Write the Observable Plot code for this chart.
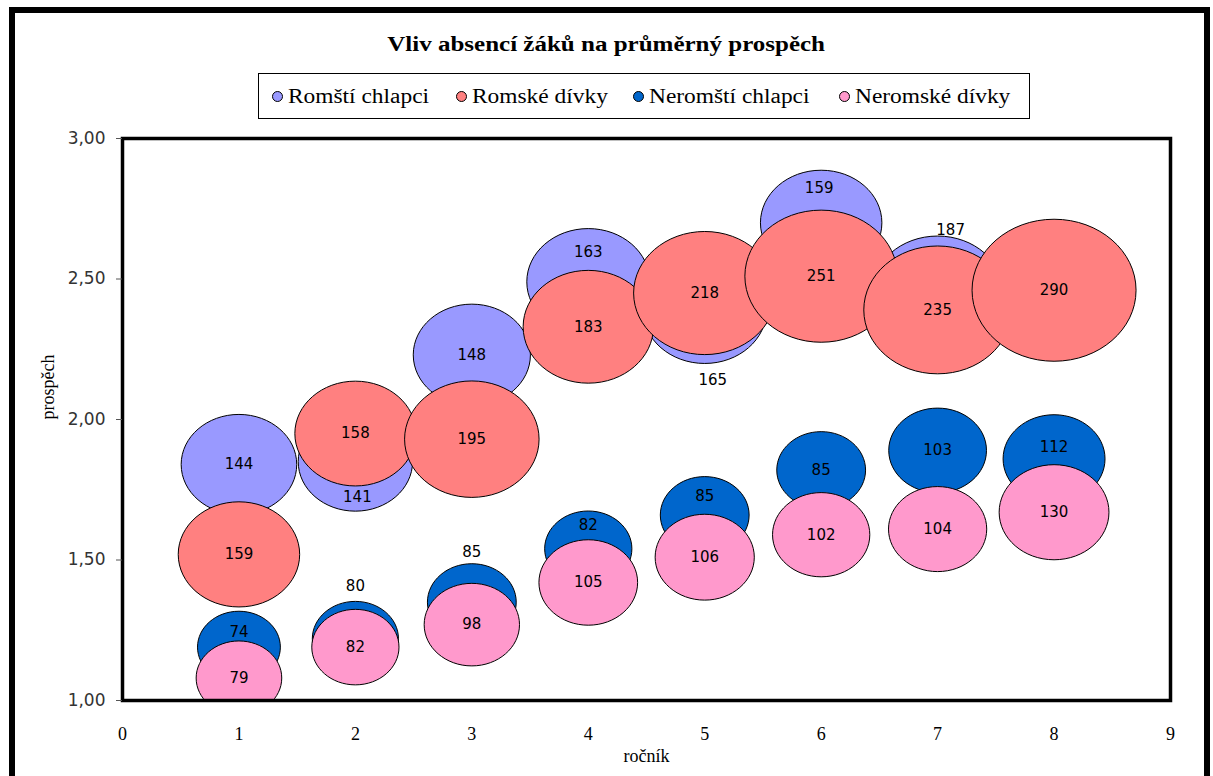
<!DOCTYPE html>
<html>
<head>
<meta charset="utf-8">
<script src="https://cdn.jsdelivr.net/npm/d3@7"></script>
<script src="https://cdn.jsdelivr.net/npm/@observablehq/plot@0.6"></script>
<style>
  body { margin: 0; background: #fff; }
  #wrap { position: relative; width: 1213px; height: 776px; overflow: hidden; background: #fff; }
  #outer { position: absolute; left: 9px; top: 7px; width: 1201px; height: 820px; border: 6px solid #000; box-sizing: border-box; }
  #chart { position: absolute; left: 0; top: 0; }
  #title { position: absolute; left: 0; top: 33px; width: 1213px; text-align: center;
           font: bold 20px "Liberation Serif", serif; color: #000; }
  #title span { display: inline-block; transform: scaleX(1.25); }
  #legend { position: absolute; left: 258px; top: 73px; width: 772px; height: 46px; box-sizing: border-box;
            border: 1px solid #000; background: #fff;
            font: 20px "Liberation Serif", serif; color: #000; }
  .item { position: absolute; top: 0; height: 44px; display: flex; align-items: center; white-space: nowrap; }
  .sw { width: 11px; height: 11px; border-radius: 50%; border: 1px solid #000; margin-right: 5px; box-sizing: border-box; }
  .lt { display: inline-block; transform: scaleX(1.17); transform-origin: left center; }
</style>
</head>
<body>
<div id="wrap">
  <div id="chart"></div>
  <div id="outer"></div>
  <div id="title"><span>Vliv absencí žáků na průměrný prospěch</span></div>
  <div id="legend"></div>
</div>
<script>
// ---- data ----
const seriesNames = ["Romští chlapci", "Romské dívky", "Neromští chlapci", "Neromské dívky"];
const seriesColors = ["#9999FF", "#FF8080", "#0066CC", "#FF99CC"];

const romBoysGrade = [1, 2, 3, 4, 5, 6, 7];
const romBoysProspech = [1.84, 1.85, 2.23, 2.49, 2.39, 2.70, 2.45];
const romBoysAbsence = [144, 141, 148, 163, 165, 159, 187];

const romGirlsGrade = [1, 2, 3, 4, 5, 6, 7, 8];
const romGirlsProspech = [1.52, 1.95, 1.93, 2.33, 2.45, 2.51, 2.39, 2.46];
const romGirlsAbsence = [159, 158, 195, 183, 218, 251, 235, 290];

const nonRomBoysGrade = [1, 2, 3, 4, 5, 6, 7, 8];
const nonRomBoysProspech = [1.19, 1.22, 1.35, 1.54, 1.66, 1.82, 1.89, 1.86];
const nonRomBoysAbsence = [74, 80, 85, 82, 85, 85, 103, 112];

const nonRomGirlsGrade = [1, 2, 3, 4, 5, 6, 7, 8];
const nonRomGirlsProspech = [1.08, 1.19, 1.27, 1.42, 1.51, 1.59, 1.61, 1.67];
const nonRomGirlsAbsence = [79, 82, 98, 105, 106, 102, 104, 130];

const xTicks = [0, 1, 2, 3, 4, 5, 6, 7, 8, 9];
const yTicks = [1.0, 1.5, 2.0, 2.5, 3.0];

// ---- build table ----
const raw = [
  [romBoysGrade, romBoysProspech, romBoysAbsence],
  [romGirlsGrade, romGirlsProspech, romGirlsAbsence],
  [nonRomBoysGrade, nonRomBoysProspech, nonRomBoysAbsence],
  [nonRomGirlsGrade, nonRomGirlsProspech, nonRomGirlsAbsence]
];
const data = [];
raw.forEach(([g, p, a], si) => g.forEach((gr, i) => data.push({series: seriesNames[si], grade: gr, prospech: p[i], absence: a[i]})));

// manual label placement (as in the original, some labels were dragged off their bubble)
const labelNudges = [
  {series: "Romští chlapci", grade: 2, dx: 2, dy: 36},
  {series: "Romští chlapci", grade: 4, dx: 0, dy: -30},
  {series: "Romští chlapci", grade: 5, dx: 8, dy: 70},
  {series: "Romští chlapci", grade: 6, dx: -2, dy: -35},
  {series: "Romští chlapci", grade: 7, dx: 13, dy: -63},
  {series: "Neromští chlapci", grade: 1, dx: 0, dy: -15},
  {series: "Neromští chlapci", grade: 2, dx: 0, dy: -52},
  {series: "Neromští chlapci", grade: 3, dx: 0, dy: -50},
  {series: "Neromští chlapci", grade: 4, dx: 0, dy: -24},
  {series: "Neromští chlapci", grade: 5, dx: 0, dy: -19},
  {series: "Neromští chlapci", grade: 8, dx: 0, dy: -12}
];
const nudgeKey = (s, g) => s + "|" + g;
const nudged = new Set(labelNudges.map(n => nudgeKey(n.series, n.grade)));

// ellipse symbol (bubbles in the original are slightly wider than tall)
const ASPECT = 1.155;
const ellipse = {
  draw(ctx, size) {
    const r = Math.sqrt(size / Math.PI);
    const rx = r * ASPECT, ry = r, k = 0.5522847498;
    ctx.moveTo(rx, 0);
    ctx.bezierCurveTo(rx, ry * k, rx * k, ry, 0, ry);
    ctx.bezierCurveTo(-rx * k, ry, -rx, ry * k, -rx, 0);
    ctx.bezierCurveTo(-rx, -ry * k, -rx * k, -ry, 0, -ry);
    ctx.bezierCurveTo(rx * k, -ry, rx, -ry * k, rx, 0);
    ctx.closePath();
  }
};

const labelFont = {fontFamily: "DejaVu Sans, Verdana, sans-serif", fontSize: 15, fill: "#000"};

const marks = [
  Plot.dot(data, {
    x: "grade", y: "prospech", r: "absence", fill: "series", stroke: "#000", strokeWidth: 1,
    symbol: ellipse, sort: null, clip: true
  }),
  Plot.text(data.filter(d => !nudged.has(nudgeKey(d.series, d.grade))), {
    x: "grade", y: "prospech", text: d => String(d.absence), ...labelFont
  }),
  ...labelNudges.map(n => Plot.text(data.filter(d => d.series === n.series && d.grade === n.grade), {
    x: "grade", y: "prospech", text: d => String(d.absence), dx: n.dx, dy: n.dy, ...labelFont
  })),
  Plot.frame({stroke: "#000", strokeWidth: 3.5}),
  Plot.axisY({ticks: yTicks, tickSize: 6, tickPadding: 11, tickFormat: d => d.toFixed(2).replace(".", ","),
    label: null, fontFamily: "DejaVu Sans, Verdana, sans-serif", fontSize: 17, color: "#333", stroke: "#555"}),
  Plot.axisX({ticks: xTicks, tickSize: 0, tickPadding: 27, label: null,
    fontFamily: "Liberation Serif, serif", fontSize: 18, color: "#000"}),
  Plot.text(["prospěch"], {frameAnchor: "left", dx: -74, rotate: -90, text: d => d,
    fontFamily: "Liberation Serif, serif", fontSize: 18, fill: "#000"}),
  Plot.text(["ročník"], {frameAnchor: "bottom", dy: 61, text: d => d,
    fontFamily: "Liberation Serif, serif", fontSize: 18, fill: "#000"})
];

const chart = Plot.plot({
  width: 1213, height: 776,
  marginLeft: 122, marginRight: 43, marginTop: 138, marginBottom: 76,
  style: {background: "transparent", overflow: "visible"},
  x: {domain: [0, 9]},
  y: {domain: [1, 3]},
  r: {type: "sqrt", domain: [0, 290], range: [0, 71]},
  color: {domain: seriesNames, range: seriesColors},
  marks
});
document.getElementById("chart").appendChild(chart);

// legend (item left offsets inside the box)
const legendOffsets = [13, 197, 374, 580];
const leg = document.getElementById("legend");
seriesNames.forEach((s, i) => {
  const it = document.createElement("div");
  it.className = "item";
  it.style.left = legendOffsets[i] + "px";
  const sw = document.createElement("span");
  sw.className = "sw";
  sw.style.background = seriesColors[i];
  const t = document.createElement("span");
  t.className = "lt";
  t.textContent = s;
  it.appendChild(sw); it.appendChild(t);
  leg.appendChild(it);
});
</script>
</body>
</html>
